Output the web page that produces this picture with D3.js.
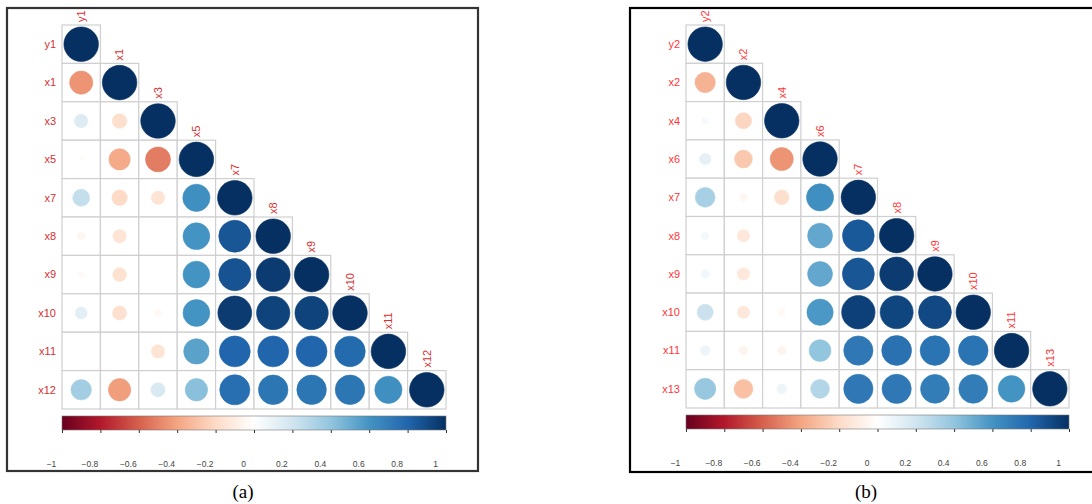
<!DOCTYPE html>
<html>
<head>
<meta charset="utf-8">
<script src="https://cdnjs.cloudflare.com/ajax/libs/d3/7.8.5/d3.min.js"></script>
<style>
  body { margin: 0; background: #fff; }
  svg { display: block; }
</style>
</head>
<body>
<div id="chart"></div>
<script>
// variable names of each panel
var varsA = ["y1", "x1", "x3", "x5", "x7", "x8", "x9", "x10", "x11", "x12"];
var varsB = ["y2", "x2", "x4", "x6", "x7", "x8", "x9", "x10", "x11", "x13"];

// lower triangle of the correlation matrices (row i has i+1 values)
var corrA = [
  [1],
  [-0.45, 1],
  [0.15, -0.18, 1],
  [-0.02, -0.38, -0.52, 1],
  [0.24, -0.2, -0.15, 0.62, 1],
  [-0.05, -0.15, 0.01, 0.6, 0.86, 1],
  [-0.03, -0.16, 0.01, 0.6, 0.87, 0.96, 1],
  [0.12, -0.17, -0.04, 0.6, 0.96, 0.93, 0.93, 1],
  [0.0, 0.0, -0.15, 0.54, 0.8, 0.8, 0.8, 0.78, 1],
  [0.35, -0.42, 0.17, 0.42, 0.76, 0.73, 0.73, 0.73, 0.62, 1]
];
var corrB = [
  [1],
  [-0.35, 1],
  [0.04, -0.22, 1],
  [0.11, -0.27, -0.45, 1],
  [0.33, -0.05, -0.18, 0.62, 1],
  [0.05, -0.13, 0.0, 0.52, 0.85, 1],
  [0.06, -0.13, 0.0, 0.52, 0.86, 0.96, 1],
  [0.22, -0.13, -0.04, 0.58, 0.94, 0.92, 0.91, 1],
  [0.08, -0.06, -0.06, 0.4, 0.72, 0.75, 0.74, 0.74, 1],
  [0.38, -0.3, 0.08, 0.3, 0.72, 0.72, 0.7, 0.7, 0.6, 1]
];

// colour bar ticks
var barTicks = [-1, -0.8, -0.6, -0.4, -0.2, 0, 0.2, 0.4, 0.6, 0.8, 1];
var captions = ["(a)", "(b)"];

// RdBu palette like corrplot
var rdbu = ["#67001F", "#B2182B", "#D6604D", "#F4A582", "#FDDBC7", "#FFFFFF",
            "#D1E5F0", "#92C5DE", "#4393C3", "#2166AC", "#053061"];
var color = d3.scaleLinear()
  .domain(d3.range(11).map(function (i) { return -1 + i * 0.2; }))
  .range(rdbu)
  .interpolate(d3.interpolateRgb);

var svg = d3.select("#chart")
  .append("svg")
  .attr("width", 1092)
  .attr("height", 504);

// gradient for the colour bar
var grad = svg.append("defs").append("linearGradient")
  .attr("id", "rdbu")
  .attr("x1", "0%").attr("x2", "100%");
rdbu.forEach(function (c, i) {
  grad.append("stop")
    .attr("offset", (i * 10) + "%")
    .attr("stop-color", c);
});

function drawPanel(opt) {
  var g = svg.append("g");
  var n = opt.vars.length;

  // frame
  g.append("rect")
    .attr("x", opt.frame[0])
    .attr("y", opt.frame[1])
    .attr("width", opt.frame[2] - opt.frame[0])
    .attr("height", opt.frame[3] - opt.frame[1])
    .attr("fill", "none")
    .attr("stroke", opt.frameColor)
    .attr("stroke-width", 2.2);

  var x = d3.scaleBand()
    .domain(opt.vars)
    .range([opt.left, opt.right])
    .padding(0);
  var y = d3.scaleBand()
    .domain(opt.vars)
    .range([opt.top, opt.top + (opt.right - opt.left)])
    .padding(0);
  var cell = x.bandwidth();
  var rMax = cell * 0.45;

  var cells = [];
  opt.corr.forEach(function (row, i) {
    row.forEach(function (v, j) {
      cells.push({ r: opt.vars[i], c: opt.vars[j], v: v });
    });
  });

  // cell borders
  g.selectAll(".cell")
    .data(cells)
    .enter()
    .append("rect")
    .attr("x", function (d) { return x(d.c); })
    .attr("y", function (d) { return y(d.r); })
    .attr("width", cell)
    .attr("height", cell)
    .attr("fill", "#fff")
    .attr("stroke", "#cfcfcf")
    .attr("stroke-width", 1.2);

  // circles, area proportional to |r|
  g.selectAll(".dot")
    .data(cells)
    .enter()
    .append("circle")
    .attr("cx", function (d) { return x(d.c) + cell / 2; })
    .attr("cy", function (d) { return y(d.r) + cell / 2; })
    .attr("r", function (d) { return rMax * Math.sqrt(Math.abs(d.v)); })
    .attr("fill", function (d) { return color(d.v); })
    .attr("stroke", function (d) { return color(d.v); })
    .attr("stroke-width", 0.6);

  // row labels
  g.selectAll(".rowlab")
    .data(opt.vars)
    .enter()
    .append("text")
    .attr("x", opt.left - 6)
    .attr("y", function (d) { return y(d) + cell / 2; })
    .attr("dy", "0.35em")
    .attr("text-anchor", "end")
    .attr("font-family", "Liberation Sans, Arial, sans-serif")
    .attr("font-size", 11)
    .attr("fill", opt.labelColor)
    .text(function (d) { return d; });

  // column labels above the diagonal
  g.selectAll(".collab")
    .data(opt.vars)
    .enter()
    .append("text")
    .attr("transform", function (d) {
      return "translate(" + (x(d) + cell / 2) + "," + (y(d) - 3) + ") rotate(-90)";
    })
    .attr("dy", "0.35em")
    .attr("text-anchor", "start")
    .attr("font-family", "Liberation Sans, Arial, sans-serif")
    .attr("font-size", 11)
    .attr("fill", opt.labelColor)
    .text(function (d) { return d; });

  // colour bar
  var barTop = opt.top + (opt.right - opt.left) + 7;
  g.append("rect")
    .attr("x", opt.left)
    .attr("y", barTop)
    .attr("width", opt.right - opt.left)
    .attr("height", 14)
    .attr("fill", "url(#rdbu)")
    .attr("stroke", "#777")
    .attr("stroke-width", 0.6);

  var bx = d3.scaleLinear().domain([-1, 1]).range([opt.left, opt.right]);
  var axis = g.append("g")
    .attr("transform", "translate(0," + (barTop + 14) + ")")
    .call(d3.axisBottom(bx)
      .tickValues(barTicks)
      .tickSize(3)
      .tickPadding(28)
      .tickFormat(function (d) { return d3.format("")(d); }));
  axis.select(".domain").remove();
  axis.selectAll(".tick line").attr("stroke", "#333");
  axis.selectAll(".tick text")
    .attr("dx", -11)
    .attr("font-family", "Liberation Sans, Arial, sans-serif")
    .attr("font-size", 8.5)
    .attr("fill", "#444");

  // caption
  svg.append("text")
    .attr("x", opt.capX)
    .attr("y", 498)
    .attr("text-anchor", "middle")
    .attr("font-family", "Liberation Serif, Times New Roman, serif")
    .attr("font-size", 19)
    .attr("fill", "#000")
    .text(opt.caption);
}

drawPanel({
  vars: varsA, corr: corrA, caption: captions[0],
  frame: [7, 8, 478, 471], frameColor: "#333",
  left: 62, right: 446, top: 25,
  labelColor: "#d42f2f", capX: 243
});
drawPanel({
  vars: varsB, corr: corrB, caption: captions[1],
  frame: [630, 8, 1096, 472], frameColor: "#000",
  left: 686, right: 1069, top: 25,
  labelColor: "#ff3636", capX: 866
});
</script>
</body>
</html>
